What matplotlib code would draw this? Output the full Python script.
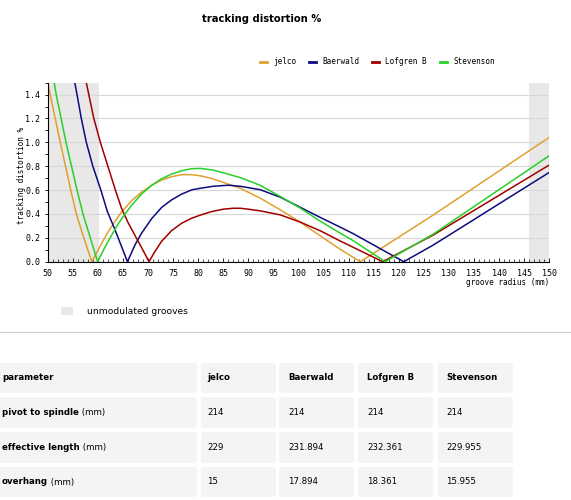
import matplotlib
matplotlib.use("Agg")
import matplotlib.pyplot as plt
from matplotlib.patches import FancyBboxPatch, Rectangle
from matplotlib.ticker import MultipleLocator, FormatStrFormatter

plt.rcParams['font.family'] = 'DejaVu Sans Mono'

# groove radius (mm) vs tracking distortion (%)
jelco_r = [50.0, 50.5, 52.5, 54.6, 55.7, 57.2, 58.8, 60.7, 62.0, 63.4, 64.7, 66.7, 68.7, 70.7,
           72.7, 74.7, 76.7, 78.7, 80.4, 82.5, 85.0, 88.4, 92.4, 96.4, 100.4, 104.4, 108.3,
           110.7, 112.35, 126.9, 150.0]
jelco_d = [1.50, 1.40, 1.00, 0.60, 0.40, 0.20, 0.00, 0.15, 0.247, 0.336, 0.415, 0.51, 0.583, 0.639,
           0.684, 0.712, 0.729, 0.729, 0.72, 0.70, 0.665, 0.615, 0.532, 0.434, 0.33, 0.215, 0.105,
           0.042, 0.0, 0.392, 1.042]

baerwald_r = [55.4, 55.85, 56.7, 57.7, 59.0, 60.6, 61.9, 63.4, 64.7, 65.9, 67.4, 68.7, 70.7, 72.7,
              74.7, 76.7, 78.7, 80.4, 83.0, 86.0, 88.4, 92.4, 96.4, 100.4, 104.4, 108.3, 110.7,
              121.0, 126.9, 150.0]
baerwald_d = [1.50, 1.40, 1.20, 1.00, 0.80, 0.60, 0.42, 0.27, 0.13, 0.00, 0.14, 0.238, 0.359, 0.454,
              0.518, 0.566, 0.602, 0.615, 0.632, 0.641, 0.632, 0.603, 0.54, 0.455, 0.37, 0.29, 0.24,
              0.0, 0.14, 0.748]

lofgren_r = [57.7, 58.2, 59.2, 60.5, 62.0, 63.5, 64.7, 66.0, 67.4, 68.7, 70.2, 71.3, 72.7, 74.7,
             76.7, 78.7, 80.4, 82.5, 85.0, 87.0, 88.4, 90.0, 92.4, 96.4, 100.4, 104.4, 108.3,
             110.7, 116.8, 126.9, 150.0]
lofgren_d = [1.50, 1.40, 1.20, 1.00, 0.80, 0.60, 0.45, 0.33, 0.22, 0.12, 0.00, 0.08, 0.17, 0.26,
             0.322, 0.364, 0.39, 0.418, 0.44, 0.448, 0.448, 0.44, 0.426, 0.392, 0.331, 0.258, 0.174,
             0.125, 0.0, 0.224, 0.81]

stevenson_r = [51.3, 51.7, 53.65, 55.85, 57.1, 58.5, 59.95, 61.4, 62.7, 64.0, 65.4, 66.7, 68.7,
               70.7, 72.7, 74.7, 76.7, 78.7, 80.4, 83.0, 85.0, 88.4, 92.4, 96.4, 100.4, 104.4,
               108.3, 110.7, 117.3, 126.9, 150.0]
stevenson_d = [1.50, 1.40, 1.00, 0.60, 0.39, 0.20, 0.00, 0.12, 0.219, 0.314, 0.398, 0.471, 0.566,
               0.639, 0.695, 0.734, 0.762, 0.779, 0.782, 0.768, 0.745, 0.705, 0.64, 0.546, 0.448,
               0.338, 0.24, 0.182, 0.0, 0.232, 0.888]

names = ["jelco", "Baerwald", "Lofgren B", "Stevenson"]
colors = ["#e0a030", "#0b0b80", "#a00000", "#28d028"]

# unmodulated groove zones (mm)
inner_groove = (50.0, 60.325)
outer_groove = (146.05, 150.0)

# table
table_header = ["parameter", "jelco", "Baerwald", "Lofgren B", "Stevenson"]
param_names = ["pivot to spindle", "effective length", "overhang"]
param_unit = "(mm)"
pivot_to_spindle = ["214", "214", "214", "214"]
effective_length = ["229", "231.894", "232.361", "229.955"]
overhang = ["15", "17.894", "18.361", "15.955"]
table_values = [pivot_to_spindle, effective_length, overhang]

W, H = 571, 500
fig = plt.figure(figsize=(W / 100, H / 100), dpi=100)

# overlay in pixel coords for title / table
ov = fig.add_axes([0, 0, 1, 1])
ov.set_xlim(0, W)
ov.set_ylim(H, 0)
ov.axis('off')
ov.set_zorder(0)

ax_l, ax_r, ax_t, ax_b = 47.7, 549.2, 82.7, 261.7
ax = fig.add_axes([ax_l / W, 1 - ax_b / H, (ax_r - ax_l) / W, (ax_b - ax_t) / H])
ax.set_zorder(1)

ax.axvspan(*inner_groove, color="#e8e8e8", lw=0, zorder=0.5)
ax.axvspan(*outer_groove, color="#e8e8e8", lw=0, zorder=0.5)

series = [(jelco_r, jelco_d), (baerwald_r, baerwald_d), (lofgren_r, lofgren_d), (stevenson_r, stevenson_d)]
for (r, d), name, c in zip(series, names, colors):
    ax.plot(r, d, color=c, lw=1.1, label=name, zorder=3)

ax.set_xlim(50, 150)
ax.set_ylim(0, 1.5)
ax.xaxis.set_major_locator(MultipleLocator(5))
ax.xaxis.set_minor_locator(MultipleLocator(1))
ax.yaxis.set_major_locator(MultipleLocator(0.2))
ax.yaxis.set_minor_locator(MultipleLocator(0.1))
ax.yaxis.set_major_formatter(FormatStrFormatter('%.1f'))
ax.set_axisbelow('line')
ax.grid(axis='y', which='major', color='#d8d8d8', lw=0.85)
for s in ['top', 'right']:
    ax.spines[s].set_visible(False)
for s in ['left', 'bottom']:
    ax.spines[s].set_linewidth(0.8)
    ax.spines[s].set_zorder(4)

ax.tick_params(axis='x', which='major', direction='in', length=3, width=0.6, labelsize=6, pad=5)
ax.tick_params(axis='x', which='minor', direction='in', length=2, width=0.5)
ax.tick_params(axis='y', which='both', direction='out', length=2, width=0.6, labelsize=6, pad=3.5)

ax.set_xlabel('groove radius (mm)', fontsize=5.5, loc='right')
ax.xaxis.set_label_coords(1.0, -0.092)
ax.set_ylabel('tracking distortion %', fontsize=5.5)
ax.yaxis.set_label_coords(-0.043, 0.48)

leg = ax.legend(loc='center', bbox_to_anchor=(377.5 / W, 1 - 62 / H), bbox_transform=fig.transFigure,
                ncol=4, frameon=False, prop={'family': 'DejaVu Sans Mono', 'size': 5.5},
                handlelength=0.9, handletextpad=0.8, columnspacing=1.7)
for h in leg.legend_handles:
    h.set_linewidth(2)

# title
ov.text(262, 19, 'tracking distortion %', family='DejaVu Sans', weight='bold', fontsize=7.2,
        ha='center', va='center')

# unmodulated grooves key
ov.add_patch(Rectangle((61, 307), 12, 8, color="#e8e8e8", lw=0))
ov.text(87, 311.5, 'unmodulated grooves', family='DejaVu Sans', fontsize=6.6, ha='left', va='center')

# separator
ov.plot([0, W], [332, 332], color='#cccccc', lw=0.8)

# table cells
col_x = [(-6, 197), (201, 276), (279, 354), (358, 433), (438, 513)]
row_y = [(363, 393), (397, 428), (432, 463), (467, 497)]
text_x = [2, 207, 288, 367, 446]
tfont = dict(family='DejaVu Sans', fontsize=6.2, va='center', ha='left')

for (y0, y1) in row_y:
    for (x0, x1) in col_x:
        ov.add_patch(FancyBboxPatch((x0, y0), x1 - x0, y1 - y0,
                                    boxstyle="round,pad=0,rounding_size=3",
                                    fc="#f4f4f4", ec="none"))

yc = [(a + b) / 2 for a, b in row_y]
for j, h in enumerate(table_header):
    ov.text(text_x[j], yc[0], h, weight='bold', **tfont)

for i, (pname, vals) in enumerate(zip(param_names, table_values)):
    t = ov.text(text_x[0], yc[i + 1], pname, weight='bold', **tfont)
    ov.annotate(' ' + param_unit, xy=(1, 0.5), xycoords=t, family='DejaVu Sans', fontsize=6.2,
                va='center', ha='left')
    for j, v in enumerate(vals):
        ov.text(text_x[j + 1], yc[i + 1], v, **tfont)

fig.savefig('out.png', dpi=100)
